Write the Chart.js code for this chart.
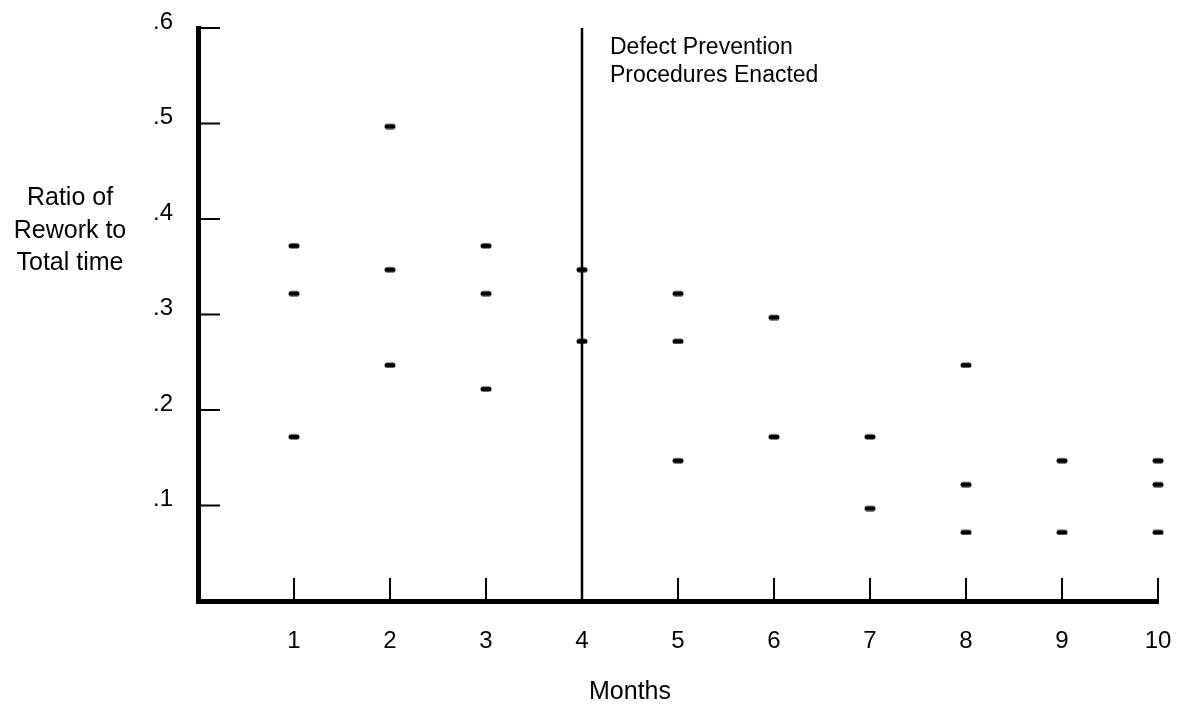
<!DOCTYPE html>
<html>
<head>
<meta charset="utf-8">
<title>Ratio of Rework to Total Time</title>
<script src="https://cdn.jsdelivr.net/npm/chart.js@4.4.1/dist/chart.umd.min.js"></script>
<style>
    html, body { margin: 0; padding: 0; background: #fff; }
    canvas { display: block; }
</style>
</head>
<body>
<canvas id="reworkChart" width="1183" height="705"></canvas>
<script>
// Rework ratios measured each month (several projects per month)
const months = [1, 2, 3, 4, 5, 6, 7, 8, 9, 10];
const reworkRatios = [
    [0.375, 0.325, 0.175],
    [0.5, 0.35, 0.25],
    [0.375, 0.325, 0.225],
    [0.35, 0.275],
    [0.325, 0.275, 0.15],
    [0.3, 0.175],
    [0.175, 0.1],
    [0.25, 0.125, 0.075],
    [0.15, 0.075],
    [0.15, 0.125, 0.075],
];

// Axis labels
const xTickLabels = ["", "1", "2", "3", "4", "5", "6", "7", "8", "9", "10"];
const yTickLabels = ["", ".1", ".2", ".3", ".4", ".5", ".6"];
const xTitle = "Months";
const yTitle = ["Ratio of", "Rework to", "Total time"];

// The month where the new procedures started
const eventMonth = 4;
const eventLabel = ["Defect Prevention", "Procedures Enacted"];

const FONT = '"Liberation Sans", Arial, Helvetica, sans-serif';

// flatten to scatter points
const points = [];
months.forEach((month, i) => {
    reworkRatios[i].forEach((ratio) => points.push({ x: month, y: ratio }));
});

// short rounded dash used as the marker (sits slightly low, like the original)
function makeDash() {
    const c = document.createElement("canvas");
    c.width = 12;
    c.height = 12;
    const g = c.getContext("2d");
    g.strokeStyle = "#000";
    g.lineWidth = 5;
    g.lineCap = "round";
    g.beginPath();
    g.moveTo(3, 9);
    g.lineTo(9, 9);
    g.stroke();
    return c;
}

// inward tick marks, axis titles and the note next to the vertical line
const extras = {
    id: "extras",
    afterDraw(chart) {
        const { ctx, chartArea, scales } = chart;
        const xs = scales.x;
        const ys = scales.y;
        ctx.save();
        ctx.strokeStyle = "#000";
        ctx.lineWidth = 2;
        ctx.beginPath();
        xs.ticks.forEach((t) => {
            if (t.value === 0) return;
            const px = xs.getPixelForValue(t.value);
            ctx.moveTo(px, chartArea.bottom);
            ctx.lineTo(px, chartArea.bottom - 23);
        });
        ys.ticks.forEach((t) => {
            if (t.value === 0) return;
            const py = ys.getPixelForValue(t.value);
            ctx.moveTo(chartArea.left, py);
            ctx.lineTo(chartArea.left + 22, py);
        });
        ctx.stroke();

        ctx.fillStyle = "#000";
        ctx.textBaseline = "alphabetic";

        // y title, horizontal, three lines
        ctx.font = "25px " + FONT;
        ctx.textAlign = "center";
        yTitle.forEach((line, i) => {
            ctx.fillText(line, chartArea.left - 128, chartArea.top + 177 + i * 32.5);
        });

        // x title
        ctx.fillText(xTitle, xs.getPixelForValue(4.5), 699);

        // note beside the event line
        ctx.font = "23px " + FONT;
        ctx.textAlign = "left";
        const noteX = xs.getPixelForValue(eventMonth) + 28;
        eventLabel.forEach((line, i) => {
            ctx.fillText(line, noteX, chartArea.top + 25.5 + i * 28.5);
        });
        ctx.restore();
    },
};

const ctx = document.getElementById("reworkChart").getContext("2d");
new Chart(ctx, {
    type: "scatter",
    data: {
        datasets: [
            {
                label: "Rework ratio",
                data: points,
                pointStyle: makeDash(),
                pointRadius: 6,
                clip: false,
                order: 0,
            },
            {
                type: "line",
                label: "Procedures enacted",
                data: [
                    { x: eventMonth, y: 0 },
                    { x: eventMonth, y: 0.6 },
                ],
                borderColor: "#000",
                borderWidth: 2.5,
                pointRadius: 0,
                fill: false,
                order: 1,
            },
        ],
    },
    options: {
        responsive: false,
        animation: false,
        layout: {
            padding: { left: 0, right: 25, top: 28, bottom: 0 },
        },
        plugins: {
            legend: { display: false },
            tooltip: { enabled: false },
        },
        scales: {
            x: {
                type: "linear",
                min: 0,
                max: 10,
                border: { display: true, color: "#000", width: 5 },
                // invisible outer ticks only to push the labels down
                grid: { drawOnChartArea: false, drawTicks: true, tickLength: 26, tickColor: "rgba(0,0,0,0)" },
                ticks: {
                    stepSize: 1,
                    autoSkip: false,
                    maxRotation: 0,
                    padding: 0,
                    color: "#000",
                    font: { family: FONT, size: 24 },
                    callback: (value) => xTickLabels[value],
                },
                afterFit: (scale) => { scale.height = 104; },
            },
            y: {
                type: "linear",
                min: 0,
                max: 0.6,
                border: { display: true, color: "#000", width: 5 },
                grid: { drawOnChartArea: false, drawTicks: true, tickLength: 25, tickColor: "rgba(0,0,0,0)" },
                ticks: {
                    stepSize: 0.1,
                    padding: 0,
                    labelOffset: -6,
                    color: "#000",
                    font: { family: FONT, size: 24 },
                    callback: (value, index) => yTickLabels[index],
                },
                afterFit: (scale) => { scale.width = 198; },
            },
        },
    },
    plugins: [extras],
});
</script>
</body>
</html>
